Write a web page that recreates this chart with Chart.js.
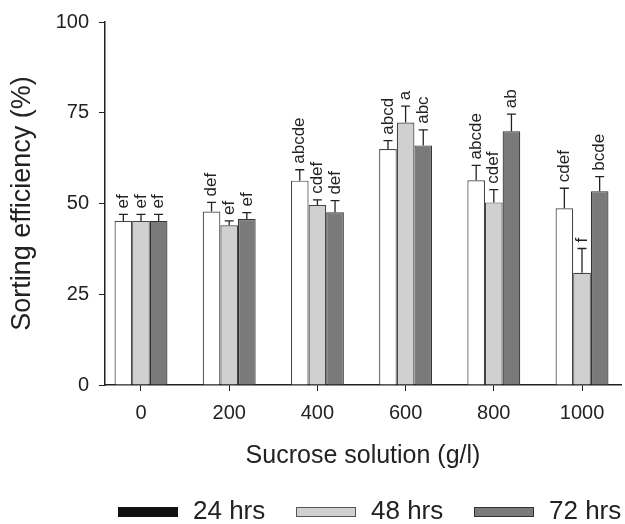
<!DOCTYPE html>
<html lang="en">
<head>
<meta charset="UTF-8">
<title>Sorting efficiency</title>
<script src="https://cdn.jsdelivr.net/npm/chart.js"></script>
<style>
    body { margin: 0; background: #fff; }
    .chart-box { width: 625px; height: 524px; }
</style>
</head>
<body>
<div class="chart-box"><canvas id="sortChart"></canvas></div>
<script>
    // categories and series
    const concentrations = ['0', '200', '400', '600', '800', '1000'];
    const seriesNames = ['24 hrs', '48 hrs', '72 hrs'];
    const eff24 = [45.2, 47.8, 56.3, 65.0, 56.4, 48.7];
    const eff48 = [45.2, 44.0, 49.6, 72.3, 50.3, 30.9];
    const eff72 = [45.2, 45.7, 47.6, 66.0, 69.9, 53.4];
    const err24 = [1.8, 2.5, 3.0, 2.3, 4.1, 5.5];
    const err48 = [1.8, 1.2, 1.4, 4.5, 3.5, 6.7];
    const err72 = [1.8, 1.8, 3.2, 4.3, 4.7, 4.0];
    const letters24 = ['ef', 'def', 'abcde', 'abcd', 'abcde', 'cdef'];
    const letters48 = ['ef', 'ef', 'cdef', 'a', 'cdef', 'f'];
    const letters72 = ['ef', 'ef', 'def', 'abc', 'ab', 'bcde'];

    const FONT = "'Liberation Sans', Arial, Helvetica, sans-serif";
    const legendFill = ['#111111', '#d0d0d0', '#7a7a7a'];
    const legendStroke = ['#111111', '#555555', '#333333'];

    function toPoints(values) {
        return values.map((v, i) => ({ x: i, y: v }));
    }

    // error bars (upper half only) and significance letters
    const errorBarPlugin = {
        id: 'errorBars',
        afterDatasetsDraw(chart) {
            const ctx = chart.ctx;
            const yScale = chart.scales.y;
            chart.data.datasets.forEach((ds, di) => {
                const meta = chart.getDatasetMeta(di);
                meta.data.forEach((bar, i) => {
                    const top = yScale.getPixelForValue(ds.data[i].y + ds.errors[i]);
                    ctx.save();
                    ctx.strokeStyle = '#222';
                    ctx.lineWidth = 1.3;
                    ctx.beginPath();
                    ctx.moveTo(bar.x, bar.y);
                    ctx.lineTo(bar.x, top);
                    ctx.moveTo(bar.x - 4.5, top);
                    ctx.lineTo(bar.x + 4.5, top);
                    ctx.stroke();

                    ctx.translate(bar.x, top - 6);
                    ctx.rotate(-Math.PI / 2);
                    ctx.fillStyle = '#222';
                    ctx.font = '17px ' + FONT;
                    ctx.textAlign = 'left';
                    ctx.textBaseline = 'middle';
                    ctx.fillText(ds.letters[i], 0, 0);
                    ctx.restore();
                });
            });
        }
    };

    // legend drawn in the reserved strip under the axis title
    const bottomLegend = {
        id: 'bottomLegend',
        afterDraw(chart) {
            const ctx = chart.ctx;
            const y = 512;
            let x = 118;
            ctx.save();
            ctx.font = '26px ' + FONT;
            ctx.textBaseline = 'middle';
            ctx.textAlign = 'left';
            seriesNames.forEach((name, i) => {
                ctx.fillStyle = legendFill[i];
                ctx.strokeStyle = legendStroke[i];
                ctx.lineWidth = 1;
                ctx.fillRect(x, y - 5, 60, 10);
                ctx.strokeRect(x + 0.5, y - 4.5, 59, 9);
                ctx.fillStyle = '#222';
                ctx.fillText(name, x + 75, y);
                x += 178;
            });
            ctx.restore();
        }
    };

    const ctx = document.getElementById('sortChart').getContext('2d');

    new Chart(ctx, {
        type: 'bar',
        data: {
            datasets: [
                {
                    label: seriesNames[0],
                    data: toPoints(eff24),
                    errors: err24,
                    letters: letters24,
                    backgroundColor: '#ffffff',
                    borderColor: '#444444',
                    borderWidth: 1.2
                },
                {
                    label: seriesNames[1],
                    data: toPoints(eff48),
                    errors: err48,
                    letters: letters48,
                    backgroundColor: '#d0d0d0',
                    borderColor: '#444444',
                    borderWidth: 1.2
                },
                {
                    label: seriesNames[2],
                    data: toPoints(eff72),
                    errors: err72,
                    letters: letters72,
                    backgroundColor: '#7a7a7a',
                    borderColor: '#333333',
                    borderWidth: 1.2
                }
            ]
        },
        options: {
            responsive: true,
            maintainAspectRatio: false,
            animation: false,
            layout: {
                padding: { top: 20, right: 4, bottom: 53, left: 0 }
            },
            datasets: {
                bar: {
                    categoryPercentage: 0.6,
                    barPercentage: 1.0
                }
            },
            plugins: {
                tooltip: { enabled: false },
                legend: { display: false }
            },
            scales: {
                x: {
                    type: 'linear',
                    offset: false,
                    min: -0.408,
                    max: 5.442,
                    afterFit: function(scale) { scale.height = 86; },
                    afterBuildTicks: function(scale) {
                        scale.ticks = scale.ticks.filter(t => Number.isInteger(t.value) && t.value >= 0 && t.value <= 5);
                    },
                    ticks: {
                        stepSize: 1,
                        includeBounds: false,
                        autoSkip: false,
                        maxRotation: 0,
                        padding: 10,
                        color: '#222',
                        font: { family: FONT, size: 20 },
                        callback: function(value) {
                            return concentrations[value] !== undefined ? concentrations[value] : '';
                        }
                    },
                    grid: {
                        display: true,
                        offset: false,
                        drawOnChartArea: false,
                        drawTicks: true,
                        tickLength: 6,
                        color: '#222'
                    },
                    border: { color: '#222', width: 1.5 },
                    title: {
                        display: true,
                        text: 'Sucrose solution (g/l)',
                        color: '#222',
                        font: { family: FONT, size: 25 },
                        padding: { top: 0, bottom: 0 }
                    }
                },
                y: {
                    min: 0,
                    max: 100,
                    afterFit: function(scale) { scale.width = 105; },
                    ticks: {
                        stepSize: 25,
                        padding: 10,
                        color: '#222',
                        font: { family: FONT, size: 20 }
                    },
                    grid: {
                        display: true,
                        drawOnChartArea: false,
                        drawTicks: true,
                        tickLength: 6,
                        color: '#222'
                    },
                    border: { color: '#222', width: 1.5 },
                    title: {
                        display: true,
                        text: 'Sorting efficiency (%)',
                        color: '#222',
                        font: { family: FONT, size: 27 },
                        padding: { top: 6, bottom: 0 }
                    }
                }
            }
        },
        plugins: [errorBarPlugin, bottomLegend]
    });
</script>
</body>
</html>
